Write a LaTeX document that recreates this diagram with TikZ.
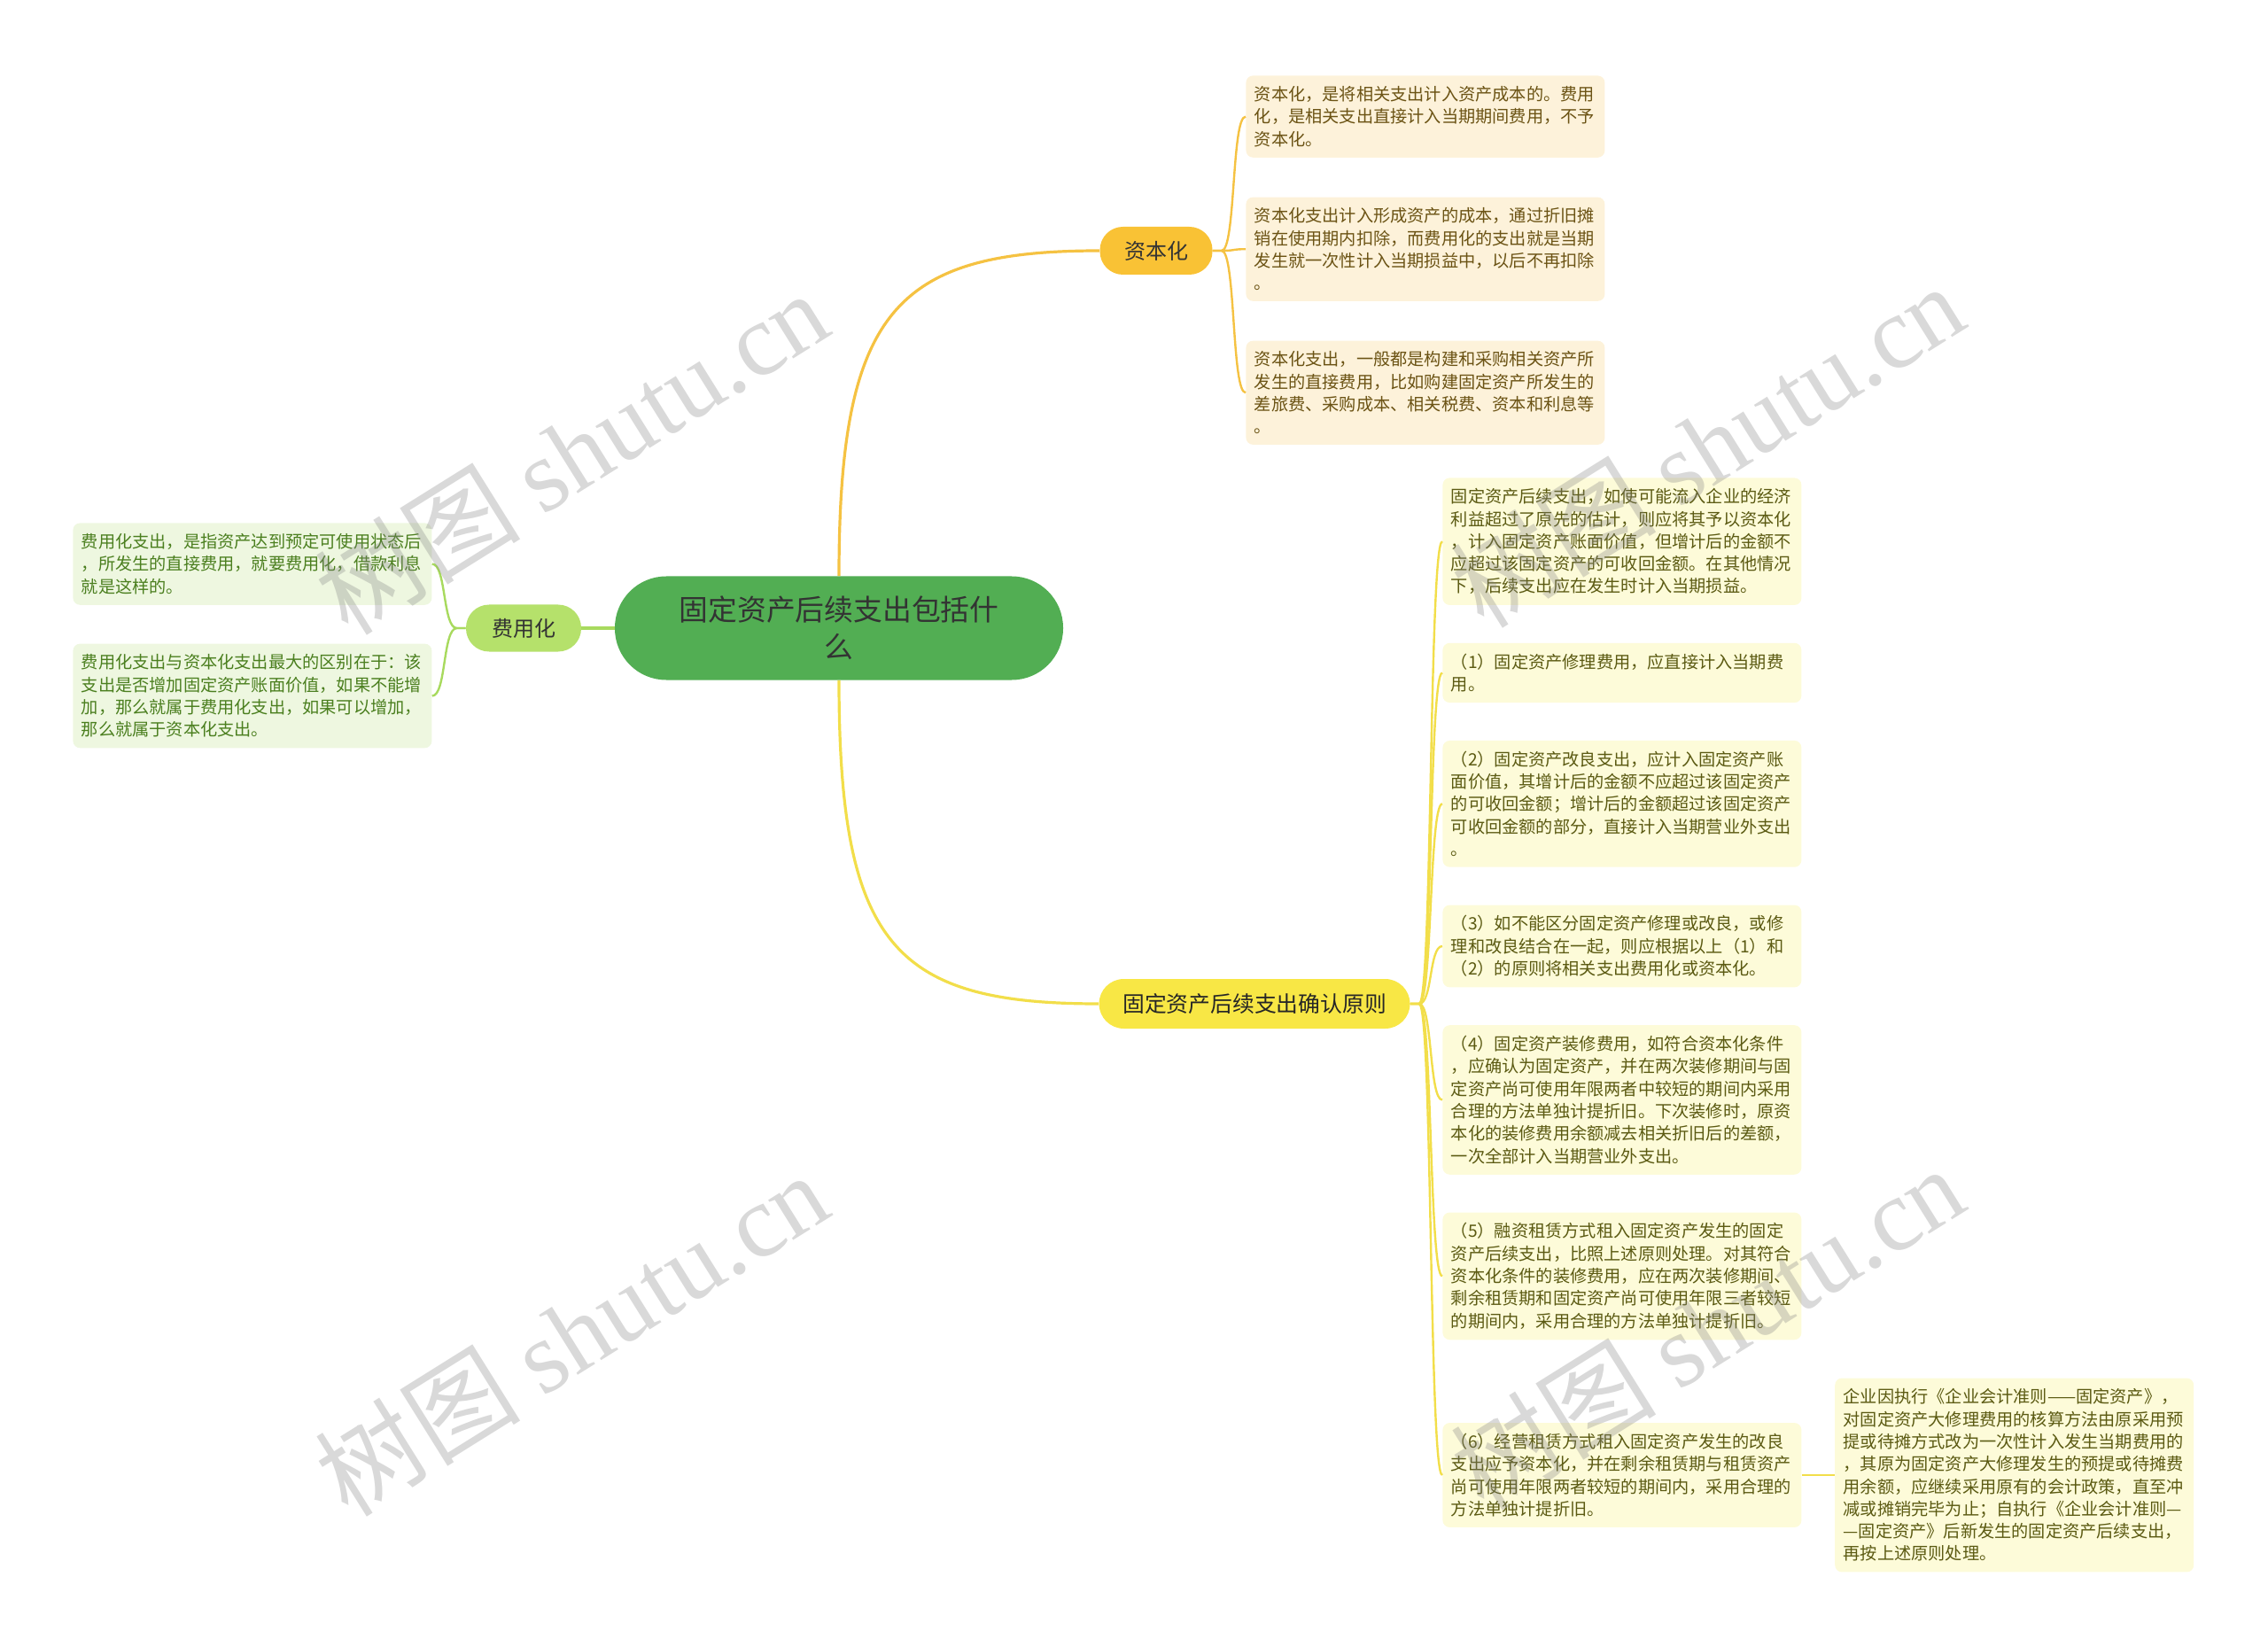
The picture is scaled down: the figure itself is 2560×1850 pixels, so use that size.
\documentclass[tikz,border=0pt]{standalone}
\usepackage{fontspec}
\setmainfont{Noto Sans CJK SC}
\newfontfamily\wmfont{Liberation Serif}
\usetikzlibrary{positioning}
\definecolor{rootfill}{HTML}{52AE53}
\definecolor{zbhfill}{HTML}{F9C235}
\definecolor{fyhfill}{HTML}{B5E16B}
\definecolor{yzfill}{HTML}{F8E745}
\definecolor{zleaffill}{HTML}{FDF2DA}
\definecolor{fleaffill}{HTML}{EEF7E0}
\definecolor{yleaffill}{HTML}{FDFBD9}
\definecolor{zleaftext}{HTML}{6B5314}
\definecolor{fleaftext}{HTML}{4B7F1F}
\definecolor{yleaftext}{HTML}{5B5A12}
\definecolor{zlinecol}{HTML}{F5C242}
\definecolor{flinecol}{HTML}{A8DA5E}
\definecolor{ylinecol}{HTML}{F2DE4A}
\tikzstyle{rootnode} = [rectangle, rounded corners=29pt, fill=rootfill, text=black!80, minimum width=253pt, minimum height=58.5pt, align=center, font=\fontsize{16.4pt}{21.2pt}\selectfont]
\tikzstyle{zbhnode} = [rectangle, rounded corners=13pt, fill=zbhfill, text=black!80, minimum width=63.5pt, minimum height=27pt, font=\fontsize{12pt}{14pt}\selectfont]
\tikzstyle{fyhnode} = [rectangle, rounded corners=13pt, fill=fyhfill, text=black!80, minimum width=65pt, minimum height=26.5pt, font=\fontsize{12pt}{14pt}\selectfont]
\tikzstyle{yznode} = [rectangle, rounded corners=14pt, fill=yzfill, text=black!85, minimum width=175.5pt, minimum height=28pt, font=\fontsize{12.4pt}{14pt}\selectfont]
\tikzstyle{leaf} = [rectangle, rounded corners=4pt, text width=193pt, align=left, inner xsep=4.75pt, inner ysep=6pt, font=\fontsize{9.6pt}{12.65pt}\selectfont]
\tikzstyle{zleaf} = [leaf, fill=zleaffill, text=zleaftext]
\tikzstyle{fleaf} = [leaf, fill=fleaffill, text=fleaftext]
\tikzstyle{yleaf} = [leaf, fill=yleaffill, text=yleaftext]
\tikzstyle{zline} = [draw=zlinecol, line width=1.6pt]
\tikzstyle{fline} = [draw=flinecol, line width=1.6pt]
\tikzstyle{yline} = [draw=ylinecol, line width=1.6pt]
\tikzstyle{zleafline} = [draw=zlinecol, line width=1.2pt]
\tikzstyle{fleafline} = [draw=flinecol, line width=1.2pt]
\tikzstyle{yleafline} = [draw=ylinecol, line width=1.2pt]
\tikzstyle{wmark} = [rotate=32, text=gray, text opacity=0.3, font=\fontsize{58pt}{58pt}\selectfont]

\begin{document}
\begin{tikzpicture}[x=0.5pt, y=-0.5pt]
    \useasboundingbox (0,0) rectangle (2560,1850);

    \node[rootnode](root) at (947,709){固定资产后续支出包括什\\么};
    \node[zbhnode](zbh) at (1305,283){资本化};
    \node[fyhnode](fyh) at (591,709){费用化};
    \node[yznode](yz) at (1416,1133){固定资产后续支出确认原则};

    \node[zleaf, anchor=north west](zb1) at (1406,85){资本化，是将相关支出计入资产成本的。费用\\化，是相关支出直接计入当期期间费用，不予\\资本化。};
    \node[zleaf, below=22pt of zb1](zb2){资本化支出计入形成资产的成本，通过折旧摊\\销在使用期内扣除，而费用化的支出就是当期\\发生就一次性计入当期损益中，以后不再扣除\\。};
    \node[zleaf, below=22pt of zb2](zb3){资本化支出，一般都是构建和采购相关资产所\\发生的直接费用，比如购建固定资产所发生的\\差旅费、采购成本、相关税费、资本和利息等\\。};

    \node[fleaf, anchor=north west](fy1) at (82,590){费用化支出，是指资产达到预定可使用状态后\\，所发生的直接费用，就要费用化，借款利息\\就是这样的。};
    \node[fleaf, below=21.5pt of fy1](fy2){费用化支出与资本化支出最大的区别在于：该\\支出是否增加固定资产账面价值，如果不能增\\加，那么就属于费用化支出，如果可以增加，\\那么就属于资本化支出。};

    \node[yleaf, anchor=north west](yz1) at (1628,539){固定资产后续支出，如使可能流入企业的经济\\利益超过了原先的估计，则应将其予以资本化\\，计入固定资产账面价值，但增计后的金额不\\应超过该固定资产的可收回金额。在其他情况\\下，后续支出应在发生时计入当期损益。};
    \node[yleaf, below=21pt of yz1](yz2){（1）固定资产修理费用，应直接计入当期费\\用。};
    \node[yleaf, below=21pt of yz2](yz3){（2）固定资产改良支出，应计入固定资产账\\面价值，其增计后的金额不应超过该固定资产\\的可收回金额；增计后的金额超过该固定资产\\可收回金额的部分，直接计入当期营业外支出\\。};
    \node[yleaf, below=21pt of yz3](yz4){（3）如不能区分固定资产修理或改良，或修\\理和改良结合在一起，则应根据以上（1）和\\（2）的原则将相关支出费用化或资本化。};
    \node[yleaf, below=21pt of yz4](yz5){（4）固定资产装修费用，如符合资本化条件\\，应确认为固定资产，并在两次装修期间与固\\定资产尚可使用年限两者中较短的期间内采用\\合理的方法单独计提折旧。下次装修时，原资\\本化的装修费用余额减去相关折旧后的差额，\\一次全部计入当期营业外支出。};
    \node[yleaf, below=21pt of yz5](yz6){（5）融资租赁方式租入固定资产发生的固定\\资产后续支出，比照上述原则处理。对其符合\\资本化条件的装修费用，应在两次装修期间、\\剩余租赁期和固定资产尚可使用年限三者较短\\的期间内，采用合理的方法单独计提折旧。};
    \node[yleaf, below=46.5pt of yz6](yz7){（6）经营租赁方式租入固定资产发生的改良\\支出应予资本化，并在剩余租赁期与租赁资产\\尚可使用年限两者较短的期间内，采用合理的\\方法单独计提折旧。};
    \node[yleaf, right=18.5pt of yz7](yz7a){企业因执行《企业会计准则——固定资产》，\\对固定资产大修理费用的核算方法由原采用预\\提或待摊方式改为一次性计入发生当期费用的\\，其原为固定资产大修理发生的预提或待摊费\\用余额，应继续采用原有的会计政策，直至冲\\减或摊销完毕为止；自执行《企业会计准则—\\—固定资产》后新发生的固定资产后续支出，\\再按上述原则处理。};

    \path[zline] (root.north) .. controls +(0,-300) and +(-230,0) .. (zbh.west);
    \path[yline] (root.south) .. controls +(0,300) and +(-230,0) .. (yz.west);
    \path[fline] (root.west) -- (fyh.east);

    \path[zleafline] (zbh.east) -- ++(10,0) .. controls +(16,0) and +(-16,0) .. (zb1.west);
    \path[zleafline] (zbh.east) -- ++(10,0) .. controls +(16,0) and +(-16,0) .. (zb2.west);
    \path[zleafline] (zbh.east) -- ++(10,0) .. controls +(16,0) and +(-16,0) .. (zb3.west);

    \path[fleafline] (fyh.west) -- ++(-10,0) .. controls +(-16,0) and +(16,0) .. (fy1.east);
    \path[fleafline] (fyh.west) -- ++(-10,0) .. controls +(-16,0) and +(16,0) .. (fy2.east);

    \path[yleafline] (yz.east) -- ++(10,0) .. controls +(15,0) and +(-15,0) .. (yz1.west);
    \path[yleafline] (yz.east) -- ++(10,0) .. controls +(15,0) and +(-15,0) .. (yz2.west);
    \path[yleafline] (yz.east) -- ++(10,0) .. controls +(15,0) and +(-15,0) .. (yz3.west);
    \path[yleafline] (yz.east) -- ++(10,0) .. controls +(15,0) and +(-15,0) .. (yz4.west);
    \path[yleafline] (yz.east) -- ++(10,0) .. controls +(15,0) and +(-15,0) .. (yz5.west);
    \path[yleafline] (yz.east) -- ++(10,0) .. controls +(15,0) and +(-15,0) .. (yz6.west);
    \path[yleafline] (yz.east) -- ++(10,0) .. controls +(15,0) and +(-15,0) .. (yz7.west);
    \path[yleafline] (yz7.east) -- (yz7a.west);

    \node[wmark](wm1) at (645,510){树图 {\wmfont shutu.cn}};
    \node[wmark](wm2) at (1927,502){树图 {\wmfont shutu.cn}};
    \node[wmark](wm3) at (645,1505){树图 {\wmfont shutu.cn}};
    \node[wmark](wm4) at (1927,1498){树图 {\wmfont shutu.cn}};
\end{tikzpicture}
\end{document}
